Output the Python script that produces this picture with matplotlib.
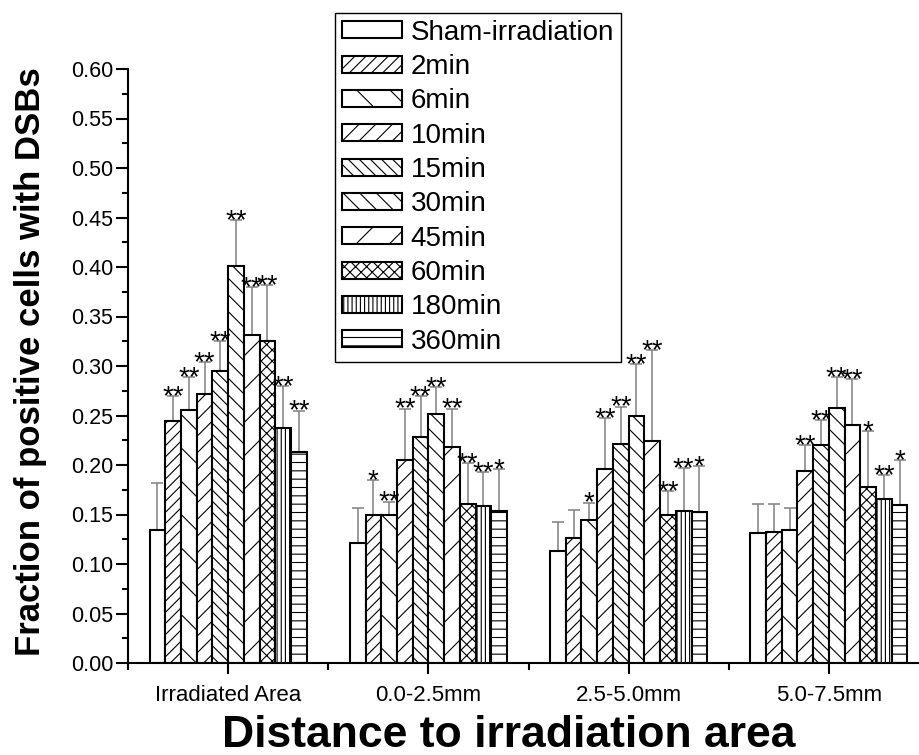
import matplotlib
matplotlib.use("Agg")
import matplotlib.pyplot as plt
import numpy as np
from matplotlib.ticker import MultipleLocator, FixedLocator

plt.rcParams['font.family'] = ['Liberation Sans', 'DejaVu Sans']
plt.rcParams['hatch.linewidth'] = 0.8
plt.rcParams['hatch.color'] = 'black'

categories = ["Irradiated Area", "0.0-2.5mm", "2.5-5.0mm", "5.0-7.5mm"]
series_names = ["Sham-irradiation", "2min", "6min", "10min", "15min",
                "30min", "45min", "60min", "180min", "360min"]

sham_mean = [0.134, 0.121, 0.113, 0.131]
min2_mean = [0.244, 0.150, 0.126, 0.132]
min6_mean = [0.256, 0.150, 0.144, 0.134]
min10_mean = [0.272, 0.205, 0.196, 0.194]
min15_mean = [0.295, 0.228, 0.221, 0.220]
min30_mean = [0.401, 0.252, 0.249, 0.258]
min45_mean = [0.331, 0.218, 0.224, 0.240]
min60_mean = [0.325, 0.161, 0.150, 0.178]
min180_mean = [0.237, 0.159, 0.154, 0.166]
min360_mean = [0.213, 0.154, 0.153, 0.160]

sham_err = [0.048, 0.036, 0.029, 0.030]
min2_err = [0.026, 0.035, 0.029, 0.029]
min6_err = [0.033, 0.013, 0.018, 0.023]
min10_err = [0.032, 0.052, 0.051, 0.026]
min15_err = [0.030, 0.042, 0.038, 0.025]
min30_err = [0.046, 0.027, 0.053, 0.031]
min45_err = [0.049, 0.039, 0.092, 0.047]
min60_err = [0.057, 0.041, 0.024, 0.056]
min180_err = [0.043, 0.034, 0.043, 0.024]
min360_err = [0.042, 0.042, 0.046, 0.045]

sham_sig = ["", "", "", ""]
min2_sig = ["**", "*", "", ""]
min6_sig = ["**", "**", "*", ""]
min10_sig = ["**", "**", "**", "**"]
min15_sig = ["**", "**", "**", "**"]
min30_sig = ["**", "**", "**", "**"]
min45_sig = ["**", "**", "**", "**"]
min60_sig = ["**", "**", "**", "*"]
min180_sig = ["**", "**", "**", "**"]
min360_sig = ["**", "*", "*", "*"]

y_ticks = [0.00, 0.05, 0.10, 0.15, 0.20, 0.25, 0.30, 0.35, 0.40, 0.45, 0.50, 0.55, 0.60]

means = [sham_mean, min2_mean, min6_mean, min10_mean, min15_mean,
         min30_mean, min45_mean, min60_mean, min180_mean, min360_mean]
errs = [sham_err, min2_err, min6_err, min10_err, min15_err,
        min30_err, min45_err, min60_err, min180_err, min360_err]
sigs = [sham_sig, min2_sig, min6_sig, min10_sig, min15_sig,
        min30_sig, min45_sig, min60_sig, min180_sig, min360_sig]
hatches = ['', '///', '\\', '//', '\\\\\\', '\\\\', '/', 'xxx', '||||', '--']

W, H = 919, 755
fig = plt.figure(figsize=(W / 100, H / 100), dpi=100)
ax = fig.add_axes([128 / W, 1 - 663 / H, 791 / W, (663 - 69) / H])

x = np.arange(len(categories))
bw = 0.0785
n = len(series_names)
handles = []
for i in range(n):
    pos = x + (i - (n - 1) / 2) * bw
    b = ax.bar(pos, means[i], width=bw, facecolor='white', edgecolor='black',
               linewidth=1.5, hatch=hatches[i], label=series_names[i], zorder=2)
    handles.append(b)
    el = ax.errorbar(pos, means[i], yerr=[np.zeros(len(categories)), errs[i]],
                     fmt='none', ecolor='#808080', elinewidth=1.1, capsize=4.3,
                     capthick=1.1, zorder=1)
    for cl in el[1]:
        cl.set_color('#404040')
    for j in range(len(categories)):
        if sigs[i][j]:
            ax.annotate(sigs[i][j], xy=(pos[j], means[i][j] + errs[i][j]),
                        xytext=(0, -5.8), textcoords='offset points',
                        ha='center', va='baseline', fontsize=20)

ax.set_xlim(-0.5, 3.45)
ax.set_ylim(0, 0.6)
ax.set_yticks(y_ticks)
ax.set_yticklabels([f"{v:.2f}" for v in y_ticks])
ax.yaxis.set_minor_locator(MultipleLocator(0.025))
ax.set_xticks(x)
ax.set_xticklabels(categories)
ax.xaxis.set_minor_locator(FixedLocator([-0.5, 0.5, 1.5, 2.5]))

for s in ['top', 'right']:
    ax.spines[s].set_visible(False)
for s in ['left', 'bottom']:
    ax.spines[s].set_linewidth(1.5)

ax.tick_params(axis='y', which='major', direction='out', length=8.6, width=1.5,
               labelsize=15.5, pad=2)
ax.tick_params(axis='y', which='minor', direction='out', length=4.3, width=1.5)
ax.tick_params(axis='x', which='major', direction='out', length=8, width=1.5,
               labelsize=16, pad=8)
ax.tick_params(axis='x', which='minor', direction='out', length=5, width=1.5)

ax.set_ylabel("Fraction of positive cells with DSBs", fontsize=25, fontweight='bold')
ax.yaxis.set_label_coords(-0.1024, 0.5076)
ax.set_xlabel("Distance to irradiation area", fontsize=32, fontweight='bold')
ax.xaxis.set_label_coords(0.481, -0.088)

leg = ax.legend(handles=handles, loc='upper left',
                bbox_to_anchor=(335 / W, 1 - 12.7 / H), bbox_transform=fig.transFigure,
                fontsize=20, frameon=True, fancybox=False, shadow=False,
                borderaxespad=0, borderpad=0.25, labelspacing=0.30,
                handlelength=2.15, handleheight=0.55, handletextpad=0.33)
leg.get_frame().set_edgecolor('black')
leg.get_frame().set_linewidth(1.0)
leg.get_frame().set_alpha(None)
leg.get_frame().set_facecolor('white')

fig.savefig("out.png", dpi=100)
